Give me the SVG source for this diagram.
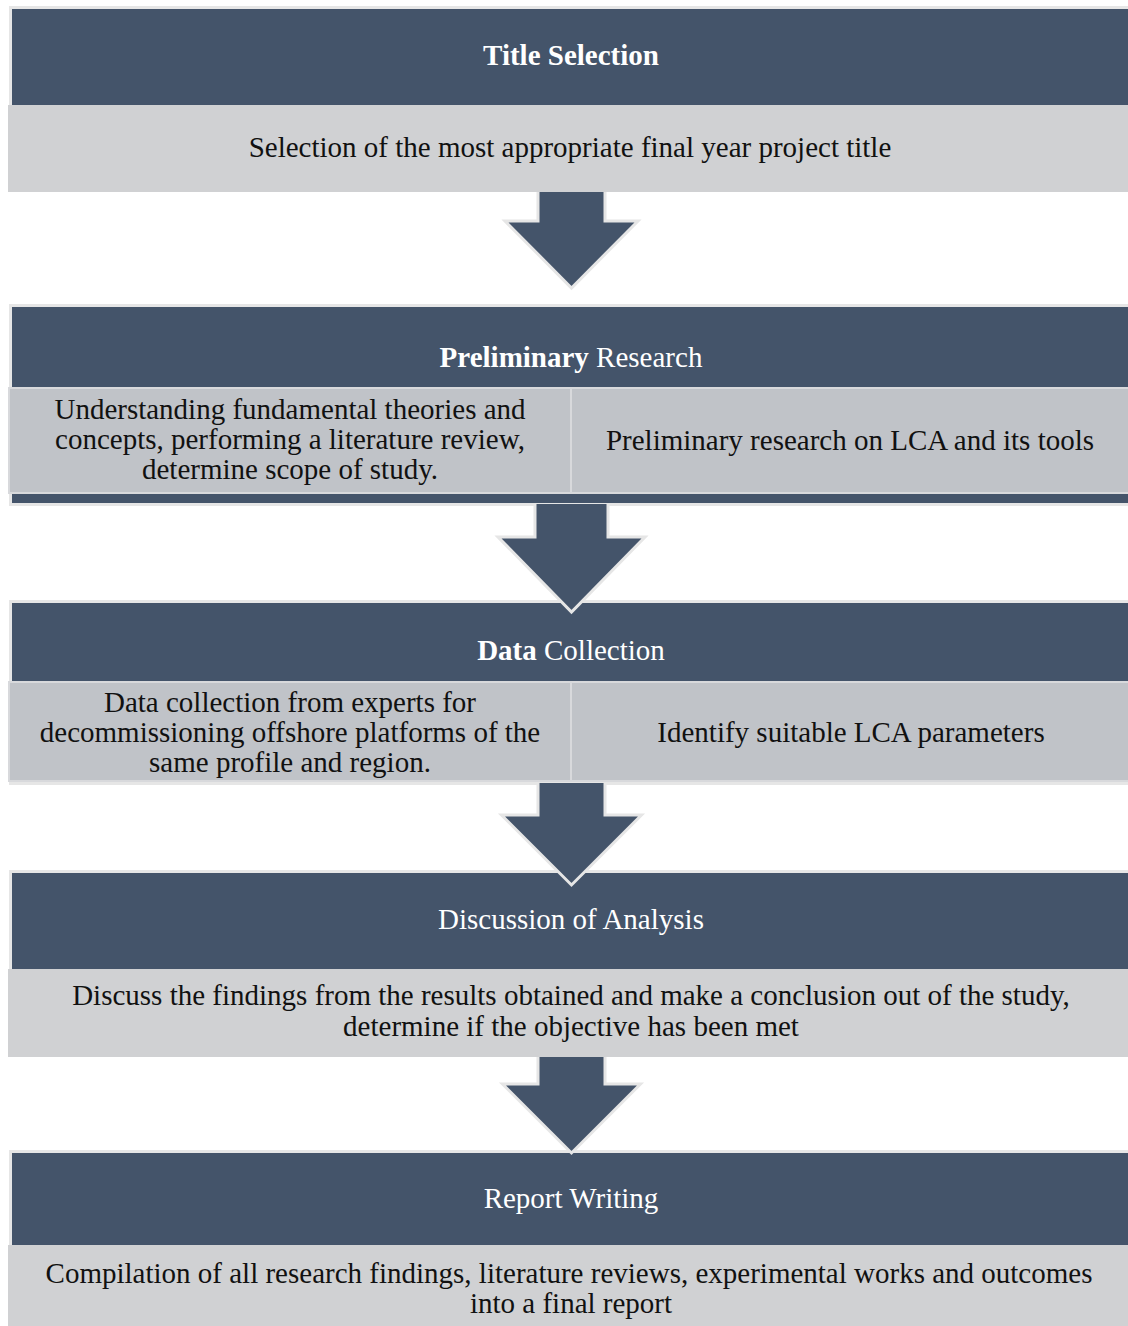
<svg xmlns="http://www.w3.org/2000/svg" width="1128" height="1326" viewBox="0 0 1128 1326">
<style>
.hdr{fill:#44546a;stroke:#e6e6e6;stroke-width:3}
.body{fill:#d0d1d3}
.cell{fill:#c0c3c8;stroke:#d8d9dc;stroke-width:2}
.arr{fill:#44546a;stroke:#e6e6e6;stroke-width:3;stroke-linejoin:miter}
text{font-family:"Liberation Serif","Times New Roman",serif;font-size:29px;text-anchor:middle}
.ht{fill:#ffffff}
.bt{fill:#111111}
.b{font-weight:bold}
</style>
<rect width="1128" height="1326" fill="#ffffff"/>
<g id="node-title-selection">
<rect class="hdr" x="10.5" y="7.5" width="1130" height="100"/>
<rect class="body" x="8" y="105" width="1130" height="87"/>
<text class="ht b" x="571" y="65">Title Selection</text>
<text class="bt" x="570" y="157">Selection of the most appropriate final year project title</text>
</g>
<g id="node-preliminary-research">
<rect class="hdr" x="10.5" y="305.5" width="1130" height="199"/>
<rect class="cell" x="9" y="388" width="562" height="105"/>
<rect class="cell" x="571" y="388" width="570" height="105"/>
<text class="ht" x="571" y="367"><tspan class="b">Preliminary</tspan> Research</text>
<text class="bt" x="290" y="419">Understanding fundamental theories and</text>
<text class="bt" x="290" y="449">concepts, performing a literature review,</text>
<text class="bt" x="290" y="479">determine scope of study.</text>
<text class="bt" x="850" y="450">Preliminary research on LCA and its tools</text>
</g>
<g id="node-data-collection">
<rect class="hdr" x="10.5" y="601.5" width="1130" height="182"/>
<rect class="cell" x="9" y="682" width="562" height="99"/>
<rect class="cell" x="571" y="682" width="570" height="99"/>
<text class="ht" x="571" y="660"><tspan class="b">Data</tspan> Collection</text>
<text class="bt" x="290" y="712">Data collection from experts for</text>
<text class="bt" x="290" y="742">decommissioning offshore platforms of the</text>
<text class="bt" x="290" y="772">same profile and region.</text>
<text class="bt" x="851" y="742">Identify suitable LCA parameters</text>
</g>
<g id="node-discussion">
<rect class="hdr" x="10.5" y="871.5" width="1130" height="100"/>
<rect class="body" x="8" y="969" width="1130" height="88"/>
<text class="ht" x="571" y="929">Discussion of Analysis</text>
<text class="bt" x="571" y="1005">Discuss the findings from the results obtained and make a conclusion out of the study,</text>
<text class="bt" x="571" y="1036">determine if the objective has been met</text>
</g>
<g id="node-report-writing">
<rect class="hdr" x="10.5" y="1151.5" width="1130" height="100"/>
<rect class="body" x="8" y="1245" width="1130" height="90"/>
<text class="ht" x="571" y="1208">Report Writing</text>
<text class="bt" x="569" y="1283">Compilation of all research findings, literature reviews, experimental works and outcomes</text>
<text class="bt" x="571" y="1313">into a final report</text>
</g>
<g id="connectors">
<path class="arr" d="M538,192 L538,221 L505,221 L571.5,288 L638,221 L605,221 L605,192"/>
<path class="arr" d="M535,504 L535,537 L498,537 L571.5,612 L645,537 L608,537 L608,504"/>
<path class="arr" d="M538,783 L538,815 L501.5,815 L571.5,885 L641.5,815 L605,815 L605,783"/>
<path class="arr" d="M538,1057 L538,1084 L502.5,1084 L571.5,1153 L640.5,1084 L605,1084 L605,1057"/>
</g>
</svg>
